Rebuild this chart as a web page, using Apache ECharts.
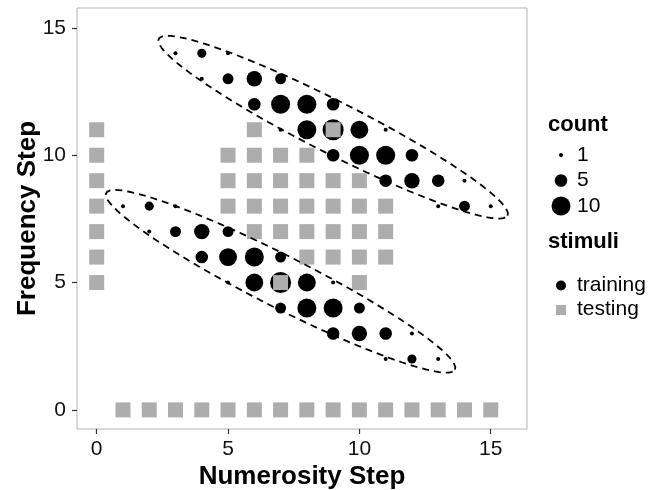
<!DOCTYPE html>
<html>
<head>
<meta charset="utf-8">
<script src="https://cdn.jsdelivr.net/npm/echarts@6/dist/echarts.min.js"></script>
<style>html,body{margin:0;padding:0;background:#fff;}#c{width:651px;height:490px;}</style>
</head>
<body>
<div id="c"></div>
<script>
// ---- data ----
const trainUpperX = [3,4,5, 4,5,6,7, 6,7,8,9, 7,8,9,10,11, 9,10,11,12, 11,12,13,14, 13,14,15];
const trainUpperY = [14,14,14, 13,13,13,13, 12,12,12,12, 11,11,11,11,11, 10,10,10,10, 9,9,9,9, 8,8,8];
const trainUpperN = [1,3,1, 1,4,7,4, 5,10,10,5, 1,10,12,9,1, 5,10,10,5, 5,7,5,1, 1,4,1];

const trainLowerX = [1,2,3, 2,3,4,5, 4,5,6,7, 5,6,7,8,9, 7,8,9,10, 9,10,11,12, 11,12,13];
const trainLowerY = [8,8,8, 7,7,7,7, 6,6,6,6, 5,5,5,5,5, 4,4,4,4, 3,3,3,3, 2,2,2];
const trainLowerN = [1,3,1, 1,4,7,4, 5,9,10,4, 1,9,12,9,1, 4,10,10,4, 5,7,5,1, 1,3,1];

const testX = [0,0,0,0,0,0,0,
  1,2,3,4,5,6,7,8,9,10,11,12,13,14,15,
  6,9,
  5,6,7,8,
  5,6,7,8,9,10,
  5,6,7,8,9,10,11,
  6,7,8,9,10,11,
  8,9,10,11,
  7,10];
const testY = [5,6,7,8,9,10,11,
  0,0,0,0,0,0,0,0,0,0,0,0,0,0,0,
  11,11,
  10,10,10,10,
  9,9,9,9,9,9,
  8,8,8,8,8,8,8,
  7,7,7,7,7,7,
  6,6,6,6,
  5,5];

// ellipse outlines (data units): centre, half major-axis vector, half minor-axis vector
const ellipseUpper = {c: [9.0, 11.1], u: [6.64, -3.47], v: [0.447, 0.911]};
const ellipseLower = {c: [7.0, 5.05], u: [6.64, -3.47], v: [0.447, 0.911]};

const xTicks = [0, 5, 10, 15];
const yTicks = [0, 5, 10, 15];
const legendCounts = [1, 5, 10];

// ---- helpers ----
function sizeOf(n) { return 4 + 15 * (Math.sqrt(n) - 1) / (Math.sqrt(10) - 1); }
function zip3(a, b, c) { return a.map((v, i) => [v, b[i], c[i]]); }
function ellipsePts(e) {
  const pts = [];
  for (let i = 0; i <= 120; i++) {
    const t = 2 * Math.PI * i / 120;
    pts.push([e.c[0] + e.u[0] * Math.cos(t) + e.v[0] * Math.sin(t),
              e.c[1] + e.u[1] * Math.cos(t) + e.v[1] * Math.sin(t)]);
  }
  return pts;
}

const FONT = '"Liberation Sans", Arial, Helvetica, sans-serif';
const chart = echarts.init(document.getElementById('c'), null, {renderer: 'canvas'});

const trainingData = zip3(trainUpperX, trainUpperY, trainUpperN).concat(zip3(trainLowerX, trainLowerY, trainLowerN));
const testingData = testX.map((x, i) => [x, testY[i]]);

// legend graphics
const lg = [];
const lx = 548, keyX = 561, labX = 577;
lg.push({type: 'text', style: {text: 'count', x: lx, y: 125, font: 'bold 22px ' + FONT, fill: '#000', verticalAlign: 'middle'}});
const countY = [155, 180.5, 206];
legendCounts.forEach((n, i) => {
  lg.push({type: 'circle', shape: {cx: keyX, cy: countY[i], r: sizeOf(n) / 2}, style: {fill: '#000'}});
  lg.push({type: 'text', style: {text: String(n), x: labX, y: countY[i], font: '21px ' + FONT, fill: '#000', verticalAlign: 'middle'}});
});
lg.push({type: 'text', style: {text: 'stimuli', x: lx, y: 242, font: 'bold 22px ' + FONT, fill: '#000', verticalAlign: 'middle'}});
lg.push({type: 'circle', shape: {cx: keyX, cy: 285.5, r: 5}, style: {fill: '#000'}});
lg.push({type: 'text', style: {text: 'training', x: labX, y: 285, font: '21px ' + FONT, fill: '#000', verticalAlign: 'middle'}});
lg.push({type: 'rect', shape: {x: keyX - 5, y: 305, width: 10, height: 10}, style: {fill: '#adadad'}});
lg.push({type: 'text', style: {text: 'testing', x: labX, y: 309, font: '21px ' + FONT, fill: '#000', verticalAlign: 'middle'}});

chart.setOption({
  animation: false,
  backgroundColor: '#fff',
  textStyle: {fontFamily: FONT},
  grid: {left: 77, top: 8, width: 450, height: 421, containLabel: false, outerBoundsMode: 'none',
         show: true, borderColor: '#b3b3b3', borderWidth: 1, backgroundColor: '#fff'},
  xAxis: {
    type: 'value', min: -0.75, max: 16.38,
    name: 'Numerosity Step', nameLocation: 'middle', nameGap: 35, nameMoveOverlap: false,
    nameTextStyle: {fontSize: 26, fontWeight: 'bold', color: '#000', fontFamily: FONT},
    axisLine: {show: false, onZero: false},
    axisTick: {show: true, length: 5, customValues: xTicks, lineStyle: {color: '#333', width: 1.2}},
    axisLabel: {customValues: xTicks, fontSize: 21, color: '#111', margin: 10, fontFamily: FONT},
    splitLine: {show: false}
  },
  yAxis: {
    type: 'value', min: -0.75, max: 15.78,
    name: 'Frequency Step', nameLocation: 'middle', nameGap: 36, nameMoveOverlap: false,
    nameTextStyle: {fontSize: 26, fontWeight: 'bold', color: '#000', fontFamily: FONT},
    axisLine: {show: false, onZero: false},
    axisTick: {show: true, length: 5, customValues: yTicks, lineStyle: {color: '#333', width: 1.2}},
    axisLabel: {customValues: yTicks, fontSize: 21, color: '#111', margin: 11, fontFamily: FONT},
    splitLine: {show: false}
  },
  series: [
    {type: 'scatter', name: 'training', data: trainingData, symbol: 'circle',
     symbolSize: (val) => sizeOf(val[2]), itemStyle: {color: '#000', opacity: 1}, z: 2},
    {type: 'scatter', name: 'testing', data: testingData, symbol: 'rect', symbolSize: 15,
     itemStyle: {color: '#adadad', opacity: 1}, z: 3},
    {type: 'line', name: 'ellipse1', data: ellipsePts(ellipseUpper), showSymbol: false, symbol: 'none',
     lineStyle: {color: '#000', width: 1.8, type: [7, 5]}, z: 4, silent: true},
    {type: 'line', name: 'ellipse2', data: ellipsePts(ellipseLower), showSymbol: false, symbol: 'none',
     lineStyle: {color: '#000', width: 1.8, type: [7, 5]}, z: 4, silent: true}
  ],
  graphic: lg
});
</script>
</body>
</html>
